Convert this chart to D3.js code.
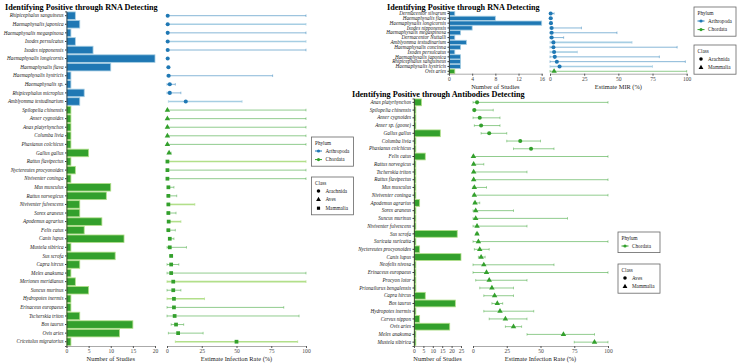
<!doctype html>
<html>
  <head>
    <script src="https://cdn.jsdelivr.net/npm/d3@7"></script>
    <style>
      body, html { margin: 0; background: #fff; }
      svg { font-family: "Liberation Serif", serif; }
      .title { font-weight: bold; font-size: 8.2px; }
      .tick text.lab { font-style: italic; font-size: 5.15px; fill: #222; }
      .tick text { font-size: 5.6px; fill: #444; font-family: "Liberation Serif", serif; }
      .axt { font-size: 6.4px; fill: #222; }
      .leg { font-size: 5.2px; fill: #222; }
    </style>
  </head>
  <body>
    <svg width="738" height="363"></svg>
    <script>
      // ---- RNA detecting (infection rate) ----
      var rnaSpecies = ["Rhipicephalus sanguineus","Haemaphysalis japonica","Haemaphysalis megaspinosa","Ixodes persulcatus",
        "Ixodes nipponensis","Haemaphysalis longicornis","Haemaphysalis flava","Haemaphysalis hystricis","Haemaphysalis sp.",
        "Rhipicephalus microplus","Amblyomma testudinarium","Spilopelia chinensis","Anser cygnoides","Anas platyrhynchos",
        "Columba livia","Phasianus colchicus","Gallus gallus","Rattus flavipectus","Nyctereutes procyonoides","Niviventer coninga",
        "Mus musculus","Rattus norvegicus","Niviventer fulvescens","Sorex araneus","Apodemus agrarius","Felis catus","Canis lupus",
        "Mustela sibirica","Sus scrofa","Capra hircus","Meles anakuma","Meriones meridianus","Suncus murinus","Hydropotes inermis",
        "Erinaceus europaeus","Tscherskia triton","Bos taurus","Ovis aries","Cricetulus migratorius"];
      var rnaStudies = [2,3,1,2,6,20,10,1,1,4,3, 1,1,1,1,1,5,1,2,1,10,9,3,3,8,4,13,1,11,3,1,2,5,1,1,3,15,12,1];
      var rnaPhylum = d3.range(39).map(i => i < 11 ? "Arthropoda" : "Chordata");
      var rnaClass = d3.range(39).map(i => i < 11 ? "Arachnida" : (i < 17 ? "Aves" : "Mammalia"));
      var rnaRate = [0.5,0.5,0.5,0.5,0.5,0.5,1,1.2,2,2,13.5, 0.3,0.3,0.3,0.3,0.3,1.5, 0.3,0.3,0.3,1,1,1,1,1.2,1,2,
        2,3,3,3,4.5,4.5,5,5,5.5,6.5,8,50];
      var rnaLow = [0,0,0,0,0,0.2,0.5,0,0,0,1, 0,0,0,0,0,0.8, 0,0,0,0.3,0,0,0,0.4,0,1.2, 0,2,0,0,0,0,0,0,0,3,1,6];
      var rnaHigh = [100,100,100,100,100,1,2,76,6,10,54, 100,100,100,100,100,3, 100,100,100,5,7,20,6.5,10,6,5,
        14,4,8.5,100,100,10,27,84,95,12,26,94];
      var rnaPooled = [0,1,0,1,0,0,1,0,0,0,1, 0,0,0,0,0,0, 1,0,0,0,0,1,0,1,0,0, 0,0,0,0,1,0,1,0,0,0,0,1];

      // ---- RNA detecting (MIR) ----
      var mirSpecies = ["Dermacentor silvarum","Haemaphysalis flava","Haemaphysalis longicornis","Ixodes nipponensis",
        "Haemaphysalis megaspinosa","Dermacentor Nuttalli","Amblyomma testudinarium","Haemaphysalis concinna","Ixodes persulcatus",
        "Haemaphysalis japonica","Rhipicephalus sanguineus","Haemaphysalis hystricis","Ovis aries"];
      var mirStudies = [1,8,16,4,2,1,3,2,1,2,2,2,1];
      var mirPhylum = d3.range(13).map(i => i < 12 ? "Arthropoda" : "Chordata");
      var mirClass = d3.range(13).map(i => i < 12 ? "Arachnida" : "Mammalia");
      var mirRate = [0.5,0.5,0.7,1.2,1.2,1.2,2.5,2.5,3,3.5,5,7,3];
      var mirLow = [0,0.3,0.5,0,0,0,0,0,0,0,0,0,0];
      var mirHigh = [3,1.5,1.2,23,49,10,60,93,20,80,99,75,100];
      var mirPooled = [0,0,0,0,0,0,1,0,1,0,0,1,0];

      // ---- Antibodies detecting ----
      var abSpecies = ["Anas platyrhynchos","Spilopelia chinensis","Anser cygnoides","Anser sp. (goose)","Gallus gallus",
        "Columba livia","Phasianus colchicus","Felis catus","Rattus norvegicus","Tscherskia triton","Rattus flavipectus",
        "Mus musculus","Niviventer coninga","Apodemus agrarius","Sorex araneus","Suncus murinus","Niviventer fulvescens",
        "Sus scrofa","Suricata suricatta","Nyctereutes procyonoides","Canis lupus","Neofelis nivosa","Erinaceus europaeus",
        "Procyon lotor","Prionailurus bengalensis","Capra hircus","Bos taurus","Hydropotes inermis","Cervus nippon",
        "Ovis aries","Meles anakuma","Mustela sibirica"];
      var abStudies = [4,1,1,1,14,1,1,6,1,1,1,1,1,3,1,1,1,23,1,3,25,1,1,1,1,6,22,1,3,19,1,1];
      var abPhylum = abSpecies.map(() => "Chordata");
      var abClass = d3.range(32).map(i => i < 7 ? "Aves" : "Mammalia");
      var abRate = [3,1,5,6,12,35,43, 0.3,0.5,0.5,0.5,1,1,1.5,2,2,3,3,4,5,6,8,10,12,14,16,18,20,24,30,67,90];
      var abLow = [0,0,0,1,6,25,30, 0,0,0,0,0,0,0.5,0,0,0,2,0,1,4,0,0,2,5,8,14,8,12,24,40,75];
      var abHigh = [100,15,20,20,25,50,60, 100,8,40,100,10,100,5,30,70,40,4,100,12,9,60,100,40,30,30,22,45,40,36,90,100];
      var abPooled = d3.range(32).map(() => 0);

      var phylumColor = {Arthropoda: "#1f78b4", Chordata: "#33a02c"};
      var phylumLight = {Arthropoda: "#a6cee3", Chordata: "#b2df8a"};
      var shapeOrder = [d3.symbolCircle, d3.symbolTriangle, d3.symbolSquare];

      var svg = d3.select("svg");

      function panel(o) {
        var g = svg.append("g");
        var y = d3.scaleBand().domain(o.species).range(o.yRange).paddingInner(0.12).paddingOuter(0.06);
        var xb = d3.scaleLinear().domain(o.barDomain).range(o.barRange);
        var xd = d3.scaleLinear().domain([0, 100]).range(o.dotRange);
        var shape = d3.scaleOrdinal().domain(o.legClass).range(shapeOrder);
        var base = o.yRange[1];

        g.append("text").attr("class", "title").attr("x", o.titleX).attr("y", o.titleY).text(o.title);

        // bars
        g.selectAll("rect.bar").data(o.species).enter().append("rect")
          .attr("x", xb(0)).attr("y", d => y(d))
          .attr("width", (d, i) => xb(o.studies[i]) - xb(0))
          .attr("height", y.bandwidth())
          .attr("fill", (d, i) => phylumColor[o.phylum[i]])
          .attr("stroke", (d, i) => phylumLight[o.phylum[i]])
          .attr("stroke-width", 0.8);

        var ya = g.append("g").attr("transform", "translate(" + xb(0) + ",0)")
          .call(d3.axisLeft(y).tickSize(1.5).tickPadding(1.5));
        ya.select(".domain").attr("stroke", "#333").attr("stroke-width", 0.8);
        ya.selectAll(".tick line").attr("stroke", "#333");
        ya.selectAll(".tick text").attr("class", "lab");

        var xa = g.append("g").attr("transform", "translate(0," + base + ")")
          .call(d3.axisBottom(xb).tickValues(o.barTicks).tickSize(2).tickPadding(1.2));
        xa.select(".domain").attr("stroke", "#555").attr("stroke-width", 0.5);
        xa.selectAll(".tick line").attr("stroke", "#555");
        g.append("text").attr("class", "axt").attr("text-anchor", "middle")
          .attr("x", (xb.range()[0] + xb.range()[1]) / 2).attr("y", base + 15).text("Number of Studies");

        // intervals
        var cy = d => y(d) + y.bandwidth() / 2;
        var ci = g.selectAll("g.ci").data(o.species).enter().append("g")
          .attr("stroke", (d, i) => o.pooled[i] ? phylumLight[o.phylum[i]] : phylumColor[o.phylum[i]])
          .attr("stroke-opacity", (d, i) => o.pooled[i] ? 1 : 0.6)
          .attr("stroke-width", (d, i) => o.pooled[i] ? 1.6 : 0.9);
        ci.append("line")
          .attr("x1", (d, i) => xd(o.low[i])).attr("x2", (d, i) => xd(o.high[i]))
          .attr("y1", cy).attr("y2", cy);
        ci.append("line").attr("stroke-width", 0.7)
          .attr("x1", (d, i) => xd(o.high[i])).attr("x2", (d, i) => xd(o.high[i]))
          .attr("y1", d => cy(d) - 1.3).attr("y2", d => cy(d) + 1.3);
        ci.append("line").attr("stroke-width", 0.7)
          .attr("x1", (d, i) => xd(o.low[i])).attr("x2", (d, i) => xd(o.low[i]))
          .attr("y1", d => cy(d) - 1.3).attr("y2", d => cy(d) + 1.3);

        g.selectAll("path.pt").data(o.species).enter().append("path")
          .attr("d", (d, i) => d3.symbol().type(shape(o.cls[i])).size(shape(o.cls[i]) === d3.symbolSquare ? 14 : 13)())
          .attr("transform", (d, i) => "translate(" + xd(o.rate[i]) + "," + cy(d) + ")")
          .attr("fill", (d, i) => phylumColor[o.phylum[i]]);

        var xa2 = g.append("g").attr("transform", "translate(0," + base + ")")
          .call(d3.axisBottom(xd).tickValues([0, 25, 50, 75, 100]).tickSize(2).tickPadding(1.2));
        xa2.select(".domain").attr("stroke", "#555").attr("stroke-width", 0.5);
        xa2.selectAll(".tick line").attr("stroke", "#555");
        g.append("text").attr("class", "axt").attr("text-anchor", "middle")
          .attr("x", (o.dotRange[0] + o.dotRange[1]) / 2).attr("y", base + 15).text(o.dotTitle);

        // legends
        legend(o.legX, o.legY, "Phylum", o.legPhylum, function (lg, k, yy) {
          lg.append("line").attr("x1", 3.5).attr("x2", 10.5).attr("y1", yy).attr("y2", yy)
            .attr("stroke", phylumColor[k]).attr("stroke-width", 1);
          lg.append("circle").attr("cx", 7).attr("cy", yy).attr("r", 1.6).attr("fill", phylumColor[k]);
        });
        legend(o.legX, o.legY2, "Class", o.legClass, function (lg, k, yy) {
          lg.append("path").attr("d", d3.symbol().type(shape(k)).size(10)())
            .attr("transform", "translate(7," + yy + ")").attr("fill", "#000");
        });
      }

      function legend(x, y0, title, keys, drawKey) {
        var lg = svg.append("g").attr("transform", "translate(" + x + "," + y0 + ")");
        var h = 12 + keys.length * 8.6;
        lg.append("rect").attr("width", 42).attr("height", h).attr("fill", "#fff")
          .attr("stroke", "#666").attr("stroke-width", 0.8);
        lg.append("text").attr("class", "leg").attr("x", 3.5).attr("y", 7.5).text(title);
        keys.forEach(function (k, i) {
          var yy = 14 + i * 8.6;
          drawKey(lg, k, yy);
          lg.append("text").attr("class", "leg").attr("x", 14).attr("y", yy + 1.8).text(k);
        });
      }

      panel({
        title: "Identifying Positive through RNA Detecting", titleX: 5, titleY: 9.5,
        species: rnaSpecies, studies: rnaStudies, phylum: rnaPhylum, cls: rnaClass,
        rate: rnaRate, low: rnaLow, high: rnaHigh, pooled: rnaPooled,
        yRange: [11.4, 346], barDomain: [0, 20], barRange: [66.5, 155], barTicks: [0, 5, 10, 15, 20],
        dotRange: [167, 306], dotTitle: "Estimate Infection Rate (%)",
        legX: 311.5, legY: 137, legY2: 177,
        legPhylum: ["Arthropoda", "Chordata"], legClass: ["Arachnida", "Aves", "Mammalia"]
      });

      panel({
        title: "Identifying Positive through RNA Detecting", titleX: 387, titleY: 9.5,
        species: mirSpecies, studies: mirStudies, phylum: mirPhylum, cls: mirClass,
        rate: mirRate, low: mirLow, high: mirHigh, pooled: mirPooled,
        yRange: [11.1, 73.7], barDomain: [0, 16], barRange: [449, 541.7], barTicks: [0, 4, 8, 12, 16],
        dotRange: [550, 686.7], dotTitle: "Estimate MIR (%)",
        legX: 694, legY: 7, legY2: 45,
        legPhylum: ["Arthropoda", "Chordata"], legClass: ["Arachnida", "Mammalia"]
      });

      panel({
        title: "Identifying Positive through Antibodies Detecting", titleX: 352, titleY: 97,
        species: abSpecies, studies: abStudies, phylum: abPhylum, cls: abClass,
        rate: abRate, low: abLow, high: abHigh, pooled: abPooled,
        yRange: [98.5, 346], barDomain: [0, 25], barRange: [414, 461], barTicks: [0, 5, 10, 15, 20, 25],
        dotRange: [473, 608], dotTitle: "Estimate Infection Rate (%)",
        legX: 618, legY: 232, legY2: 264,
        legPhylum: ["Chordata"], legClass: ["Aves", "Mammalia"]
      });
    </script>
  </body>
</html>
